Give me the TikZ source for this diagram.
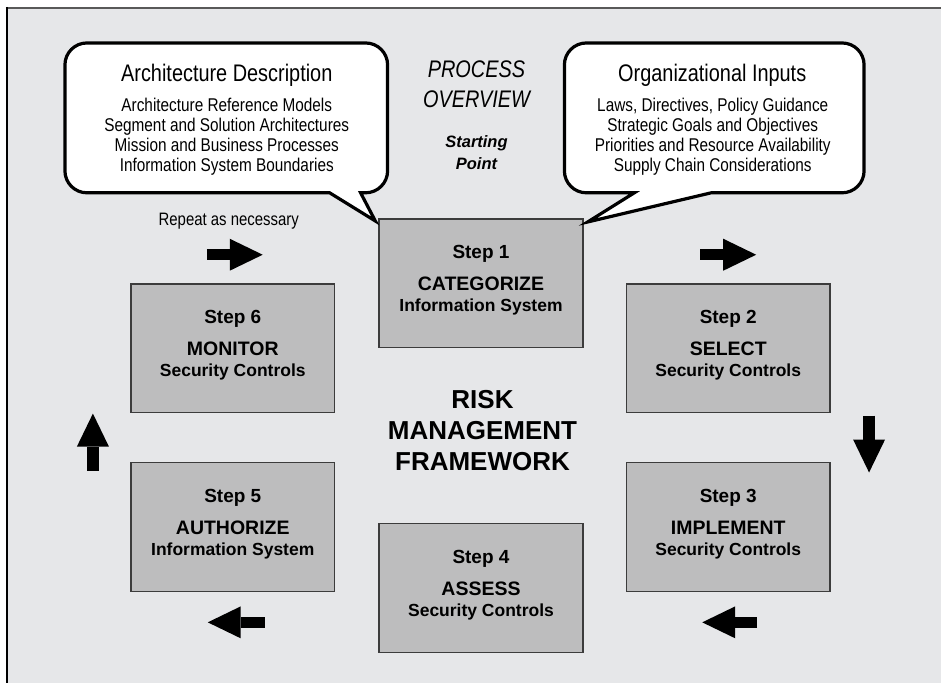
\documentclass[tikz,border=0pt]{standalone}
\usepackage{fontspec}
\setmainfont{Liberation Sans}
\newfontfamily\narrowfont{Liberation Sans}[FakeStretch=0.83]
\usepackage{xcolor}
\usepackage{tikz}
\usetikzlibrary{arrows.meta}

\definecolor{panelgray}{HTML}{E6E7E9}
\definecolor{boxgray}{HTML}{BDBDBE}
\definecolor{edgegray}{HTML}{3C3C3C}

\tikzset{
  stepbox/.style={draw=edgegray, line width=1.6pt, fill=boxgray, minimum width=204pt, minimum height=129pt, inner sep=0pt},
  stepnum/.style={anchor=base, inner sep=0pt, font=\fontsize{19}{22}\selectfont\bfseries},
  steptitle/.style={anchor=base, inner sep=0pt, font=\fontsize{19.5}{22}\selectfont\bfseries},
  stepsub/.style={anchor=base, inner sep=0pt, font=\fontsize{17.5}{20}\selectfont\bfseries},
  bubble/.style={draw=black, line width=3.2pt, fill=white, line join=miter},
  bubblehead/.style={anchor=base, inner sep=0pt, font=\narrowfont\fontsize{24}{28}\selectfont},
  bubbletext/.style={anchor=north, inner sep=0pt, align=center, font=\narrowfont\fontsize{18.5}{20}\selectfont},
  flow/.style={line width=11.5pt, -{Triangle[length=33pt, width=32pt, line width=0pt]}},
}

\begin{document}
\begin{tikzpicture}[x=1pt, y=-1pt]
\fill[white] (0,0) rectangle (942,684);
\fill[panelgray] (7,8) rectangle (942,684);
\draw[line width=2pt, black!65] (6,8) -- (942,8);
\draw[line width=2.6pt] (7,7) -- (7,684);

\node[stepbox] (s1) at (481.5,283.5) {};
\node[stepbox] (s2) at (729,348.5) {};
\node[stepbox] (s3) at (729,527.5) {};
\node[stepbox] (s4) at (481.5,588.5) {};
\node[stepbox] (s5) at (233,527.5) {};
\node[stepbox] (s6) at (233,348.5) {};

% speech bubbles
\coordinate (tipA) at ([xshift=-3pt, yshift=-3pt]s1.north west);
\coordinate (tipB) at ([xshift=4pt, yshift=-4pt]s1.north east);
\draw[bubble] (330,193) [rounded corners=22pt] -- (65,193) -- (65,43) -- (388,43) -- (388,193) [sharp corners] -- (361,193) -- (tipA) -- cycle;
\draw[bubble] (712,193) [rounded corners=22pt] -- (865,193) -- (865,43) -- (565,43) -- (565,193) [sharp corners] -- (635,193) -- (tipB) -- cycle;

\node[bubblehead] (archhead) at (227,82) {Architecture Description};
\node[bubbletext] (archtext) at (227,97.8) {Architecture Reference Models\\Segment and Solution Architectures\\Mission and Business Processes\\Information System Boundaries};
\node[bubblehead] (orghead) at (713,82) {Organizational Inputs};
\node[bubbletext] (orgtext) at (713.5,97.8) {Laws, Directives, Policy Guidance\\Strategic Goals and Objectives\\Priorities and Resource Availability\\Supply Chain Considerations};

\node[anchor=north, inner sep=0pt, align=center, font=\narrowfont\itshape\fontsize{24}{30}\selectfont] (overview) at (477,60.8) {PROCESS\\OVERVIEW};
\node[anchor=north, inner sep=0pt, align=center, font=\bfseries\itshape\fontsize{16.5}{22}\selectfont] (start) at (477,135.2) {Starting\\Point};
\node[anchor=base, inner sep=0pt, font=\narrowfont\fontsize{18}{20}\selectfont] (repeat) at (229,226) {Repeat as necessary};
\node[anchor=north, inner sep=0pt, align=center, font=\bfseries\fontsize{26}{31}\selectfont] (rmf) at (483,390.4) {RISK\\MANAGEMENT\\FRAMEWORK};

% step texts
\node[stepnum] (s1n) at (481.5,259) {Step 1};
\node[steptitle] (s1t) at (481.5,291) {CATEGORIZE};
\node[stepsub] (s1s) at (481.5,312) {Information System};
\node[stepnum] (s2n) at (729,324) {Step 2};
\node[steptitle] (s2t) at (729,356) {SELECT};
\node[stepsub] (s2s) at (729,377) {Security Controls};
\node[stepnum] (s3n) at (729,503) {Step 3};
\node[steptitle] (s3t) at (729,535) {IMPLEMENT};
\node[stepsub] (s3s) at (729,556) {Security Controls};
\node[stepnum] (s4n) at (481.5,564) {Step 4};
\node[steptitle] (s4t) at (481.5,596) {ASSESS};
\node[stepsub] (s4s) at (481.5,617) {Security Controls};
\node[stepnum] (s5n) at (233,503) {Step 5};
\node[steptitle] (s5t) at (233,535) {AUTHORIZE};
\node[stepsub] (s5s) at (233,556) {Information System};
\node[stepnum] (s6n) at (233,324) {Step 6};
\node[steptitle] (s6t) at (233,356) {MONITOR};
\node[stepsub] (s6s) at (233,377) {Security Controls};

% cycle arrows
\coordinate (a61) at (207,255);
\coordinate (a62) at (263,255);
\coordinate (a11) at (701,255);
\coordinate (a12) at (757,255);
\coordinate (a21) at (870,416);
\coordinate (a22) at (870,473);
\coordinate (a31) at (758,623);
\coordinate (a32) at (703,623);
\coordinate (a41) at (265,623);
\coordinate (a42) at (208,623);
\coordinate (a51) at (93,471);
\coordinate (a52) at (93,414);
\draw[flow] (a61) -- (a62);
\draw[flow] (a11) -- (a12);
\draw[flow] (a21) -- (a22);
\draw[flow] (a31) -- (a32);
\draw[flow] (a41) -- (a42);
\draw[flow] (a51) -- (a52);
\end{tikzpicture}
\end{document}
